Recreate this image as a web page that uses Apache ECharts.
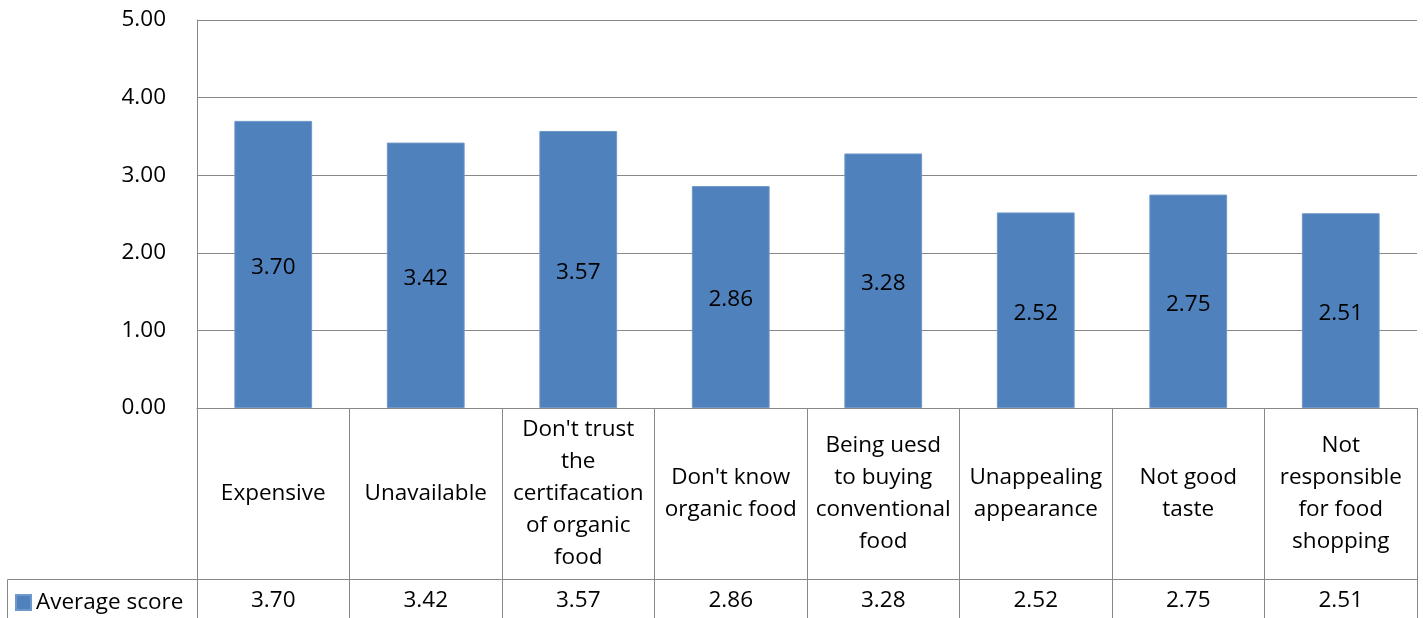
<!DOCTYPE html>
<html>
<head>
<meta charset="utf-8">
<script src="https://cdn.jsdelivr.net/npm/echarts@6/dist/echarts.min.js"></script>
<style>
  html, body { margin: 0; padding: 0; background: #fff; }
  #chart { width: 1423px; height: 618px; }
</style>
</head>
<body>
<div id="chart"></div>
<script>
// Reasons for not buying organic food, with average scores
const categories = [
  "Expensive",
  "Unavailable",
  "Don't trust\nthe\ncertifacation\nof organic\nfood",
  "Don't know\norganic food",
  "Being uesd\nto buying\nconventional\nfood",
  "Unappealing\nappearance",
  "Not good\ntaste",
  "Not\nresponsible\nfor food\nshopping"
];
const seriesName = "Average score";
const averageScore = [3.70, 3.42, 3.57, 2.86, 3.28, 2.52, 2.75, 2.51];
const yTicks = [0, 1, 2, 3, 4, 5];

const FONT = "Open Sans";
const FS = 22.5;
const LINE = "#888888";
const BAR = "#4F81BD";

const chart = echarts.init(document.getElementById('chart'));
chart.setOption({
  animation: false,
  textStyle: { fontFamily: FONT },
  grid: { left: 197, right: 6, top: 20, bottom: 210, containLabel: false },
  legend: {
    left: 10, top: 586,
    itemWidth: 15, itemHeight: 15, itemGap: 7,
    icon: 'rect',
    textStyle: { fontFamily: FONT, fontSize: FS, color: '#000' },
    data: [seriesName]
  },
  xAxis: [
    {
      // category labels: the upper row of the data table
      type: 'category',
      data: categories,
      position: 'bottom',
      axisLine: { show: true, lineStyle: { color: LINE, width: 1 } },
      axisTick: { show: true, alignWithLabel: false, length: 212, inside: false,
                  lineStyle: { color: LINE, width: 1 } },
      axisLabel: {
        interval: 0, margin: 86, verticalAlign: 'middle', align: 'center',
        fontFamily: FONT, fontSize: FS, lineHeight: 32, color: '#000'
      }
    },
    {
      // value row of the data table
      type: 'category',
      data: categories,
      position: 'bottom',
      offset: 171,
      axisLine: { show: true, lineStyle: { color: LINE, width: 1 } },
      axisTick: { show: false },
      axisLabel: {
        interval: 0, margin: 22, verticalAlign: 'middle', align: 'center',
        fontFamily: FONT, fontSize: FS, color: '#000',
        formatter: (v, i) => averageScore[i].toFixed(2)
      }
    }
  ],
  yAxis: {
    type: 'value',
    min: yTicks[0], max: yTicks[yTicks.length - 1], interval: 1,
    axisLine: { show: true, lineStyle: { color: LINE, width: 1 } },
    axisTick: { show: false },
    splitLine: { show: true, lineStyle: { color: LINE, width: 1 } },
    axisLabel: {
      margin: 31, fontFamily: FONT, fontSize: FS, color: '#000',
      formatter: v => v.toFixed(2)
    }
  },
  graphic: [
    {
      // top and left edges of the legend cell (its right edge is the first table rule)
      type: 'polyline',
      shape: { points: [[197, 579.5], [7.5, 579.5], [7.5, 640]] },
      style: { fill: null, stroke: LINE, lineWidth: 1 },
      silent: true
    }
  ],
  series: [{
    name: seriesName,
    type: 'bar',
    xAxisIndex: 0,
    data: averageScore,
    barWidth: '51%',
    itemStyle: { color: BAR, borderColor: '#6F97C9', borderWidth: 1 },
    label: {
      show: true, position: 'inside', color: '#000',
      offset: [0, 3],
      fontFamily: FONT, fontSize: FS,
      formatter: p => p.value.toFixed(2)
    }
  }]
});
</script>
</body>
</html>
